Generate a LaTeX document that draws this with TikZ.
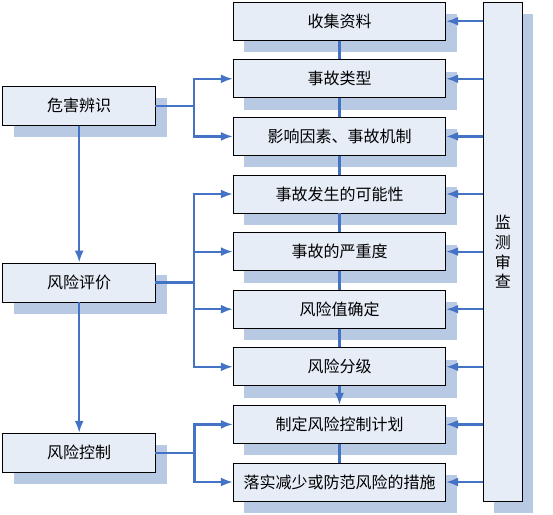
\documentclass[tikz,border=0pt]{standalone}
\usepackage{fontspec}
\setmainfont{Noto Sans CJK SC}
\usetikzlibrary{arrows.meta,positioning,shadows}
\definecolor{linkcol}{HTML}{4472C4}
\definecolor{boxcol}{HTML}{E6EDF7}
\definecolor{shadecol}{HTML}{B8C9E3}

\begin{document}
\begin{tikzpicture}[
  x=1pt, y=-1pt,
  node distance=18.7pt,
  every node/.style={font=\fontsize{16}{19.8}\selectfont},
  box/.style={draw, line width=0.9pt, fill=boxcol, inner sep=0pt,
    drop shadow={shadow xshift=11pt, shadow yshift=-12pt, fill=shadecol, opacity=1}},
  stepbox/.style={box, minimum width=212.4pt, minimum height=38pt},
  sidebox/.style={box, minimum width=153pt, minimum height=39pt},
  link/.style={draw=linkcol, line width=2.2pt},
  arr/.style={link, -{Latex[length=12pt,width=9pt]}}
]
\useasboundingbox (0,0) rectangle (553,514);

% middle column
\node[stepbox] (m1) at (339.5,21.2) {收集资料};
\node[stepbox, below=of m1] (m2) {事故类型};
\node[stepbox, below=of m2] (m3) {影响因素、事故机制};
\node[stepbox, below=of m3] (m4) {事故发生的可能性};
\node[stepbox, below=of m4] (m5) {事故的严重度};
\node[stepbox, below=of m5] (m6) {风险值确定};
\node[stepbox, below=of m6] (m7) {风险分级};
\node[stepbox, below=of m7] (m8) {制定风险控制计划};
\node[stepbox, below=of m8] (m9) {落实减少或防范风险的措施};

% left column
\node[sidebox] (a1) at (79.2,105.7) {危害辨识};
\node[sidebox] (a2) at (79.2,282.5) {风险评价};
\node[sidebox] (a3) at (79.2,452.8) {风险控制};

% right column
\node[box, minimum width=39pt, minimum height=499pt, align=center] (r) at (502.8,251.8) {监\\测\\审\\查};

% connectors
\draw[arr] (a1) -- (a2);
\draw[arr] (a2) -- (a3);

\coordinate (j1) at ([xshift=37.6pt]a1.east);
\coordinate (j2) at ([xshift=37.6pt]a2.east);
\coordinate (j3) at ([xshift=38.3pt]a3.east);
\draw[link, line cap=rect] (a1.east) -- (j1);
\draw[link, line cap=rect] (a2.east) -- (j2);
\draw[link, line cap=rect] (a3.east) -- (j3);
\foreach \i in {2,3} \draw[arr] (j1) |- (m\i);
\foreach \i in {4,...,7} \draw[arr] (j2) |- (m\i);
\foreach \i in {8,9} \draw[arr] (j3) |- (m\i);

\foreach \i/\j in {1/2,2/3,3/4,4/5,5/6,6/7,8/9} \draw[link] (m\i) -- (m\j);
\draw[arr] (m7) -- (m8);

\foreach \i in {1,...,9} \draw[arr] (r.west |- m\i) -- (m\i);
\end{tikzpicture}
\end{document}
